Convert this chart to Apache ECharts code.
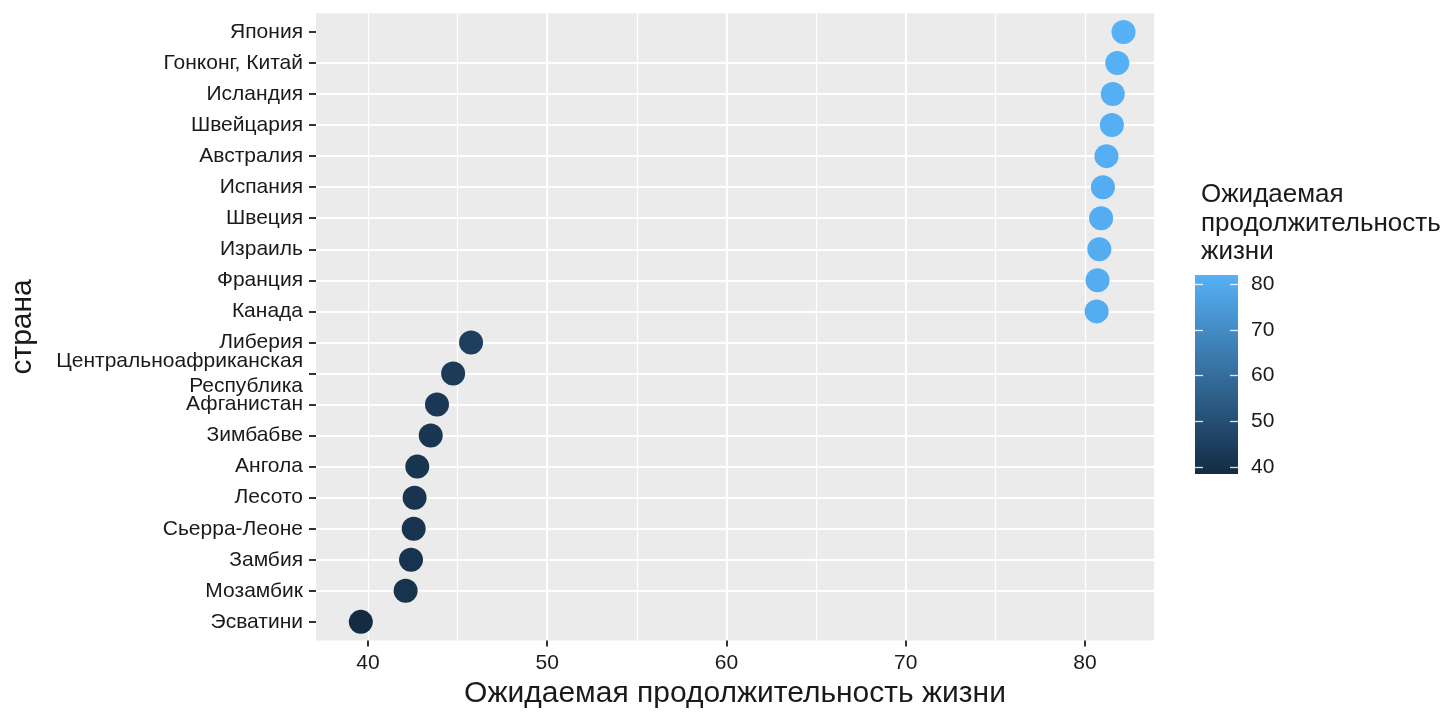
<!DOCTYPE html>
<html><head><meta charset="utf-8">
<script src="https://cdn.jsdelivr.net/npm/echarts@6/dist/echarts.min.js"></script>
<style>html,body{margin:0;padding:0;background:#fff}#c{width:1440px;height:720px}</style>
</head><body><div id="c"></div>
<script>
const countries = ['Эсватини','Мозамбик','Замбия','Сьерра-Леоне','Лесото','Ангола','Зимбабве','Афганистан','Центральноафриканская\nРеспублика','Либерия','Канада','Франция','Израиль','Швеция','Испания','Австралия','Швейцария','Исландия','Гонконг, Китай','Япония'];
const lifeExpectancy = [39.6,42.1,42.4,42.55,42.6,42.75,43.5,43.85,44.75,45.75,80.65,80.7,80.8,80.9,81.0,81.2,81.5,81.55,81.8,82.15];
const xTicks = [40,50,60,70,80];
const legendTicks = [40,50,60,70,80];
const xTitle = 'Ожидаемая продолжительность жизни';
const yTitle = 'страна';
const legendTitle = 'Ожидаемая\nпродолжительность\nжизни';

const FONT = "'Liberation Sans', Arial, sans-serif";
const TXT = '#1a1a1a';
const lo = Math.min(...lifeExpectancy), hi = Math.max(...lifeExpectancy);
const idx = countries.map((_, i) => i);

const chart = echarts.init(document.getElementById('c'));
chart.setOption({
  backgroundColor: '#fff',
  textStyle: { fontFamily: FONT },
  animation: false,
  title: {
    text: legendTitle, left: 1196, top: 176,
    textStyle: { fontFamily: FONT, fontSize: 26, lineHeight: 28.5, fontWeight: 'normal', color: TXT }
  },
  grid: [
    { left: 316, right: 286, top: 13.3, bottom: 79.5, show: true, backgroundColor: '#EBEBEB', borderWidth: 0 },
    { left: 1195, width: 43, top: 275, height: 199, show: true, borderWidth: 0,
      backgroundColor: { type: 'linear', x: 0, y: 0, x2: 0, y2: 1,
        colorStops: [{ offset: 0, color: '#56B1F7' }, { offset: 1, color: '#132B43' }] } }
  ],
  xAxis: [
    { type: 'value', gridIndex: 0, min: 37.1, max: 83.85, minInterval: 10, maxInterval: 10,
      name: xTitle, nameLocation: 'middle', nameGap: 37,
      nameTextStyle: { fontSize: 30, color: TXT, fontFamily: FONT },
      axisLine: { show: false, onZero: false },
      axisTick: { show: true, length: 6, customValues: xTicks, lineStyle: { color: '#333', width: 2 } },
      axisLabel: { customValues: xTicks, fontSize: 21, color: TXT, margin: 12, fontFamily: FONT,
        formatter: v => (v % 10 === 0 ? String(v) : '') },
      splitLine: { show: true, showMinLine: false, showMaxLine: false, lineStyle: { color: '#fff', width: 2 } } },
    { type: 'value', gridIndex: 0, min: 37.1, max: 83.85, minInterval: 5, maxInterval: 5,
      axisLine: { show: false, onZero: false }, axisTick: { show: false }, axisLabel: { show: false },
      splitLine: { show: true, showMinLine: false, showMaxLine: false, lineStyle: { color: '#fff', width: 1.2 } } },
    { type: 'value', gridIndex: 1, show: false, min: 0, max: 1 }
  ],
  yAxis: [
    { type: 'value', gridIndex: 0, min: -0.6, max: countries.length - 0.4, minInterval: 1, maxInterval: 1,
      name: yTitle, nameLocation: 'middle', nameGap: 278, nameRotate: 90,
      nameTextStyle: { fontSize: 30, color: TXT, fontFamily: FONT },
      axisLine: { show: false, onZero: false },
      axisTick: { show: true, length: 7, customValues: idx, lineStyle: { color: '#333', width: 2 } },
      axisLabel: { customValues: idx, fontSize: 21, color: TXT, margin: 13, fontFamily: FONT, lineHeight: 25,
        formatter: v => (Number.isInteger(v) && countries[v] !== undefined ? countries[v] : '') },
      splitLine: { show: true, showMinLine: false, showMaxLine: false, lineStyle: { color: '#fff', width: 2 } } },
    { type: 'value', gridIndex: 1, position: 'left', min: 38.5, max: 82.0, minInterval: 10, maxInterval: 10,
      axisLine: { show: false, onZero: false }, axisLabel: { show: false }, splitLine: { show: false },
      axisTick: { show: true, inside: true, length: 8, customValues: legendTicks, lineStyle: { color: 'rgba(255,255,255,0.85)', width: 1.3 } } },
    { type: 'value', gridIndex: 1, position: 'right', min: 38.5, max: 82.0, minInterval: 10, maxInterval: 10,
      axisLine: { show: false, onZero: false }, splitLine: { show: false },
      axisTick: { show: true, inside: true, length: 8, customValues: legendTicks, lineStyle: { color: 'rgba(255,255,255,0.85)', width: 1.3 } },
      axisLabel: { customValues: legendTicks, fontSize: 21, color: TXT, margin: 13, fontFamily: FONT,
        formatter: v => (v % 10 === 0 ? String(v) : '') } }
  ],
  visualMap: {
    type: 'continuous', show: false, seriesIndex: 0, dimension: 0, min: lo, max: hi,
    inRange: { color: ['#132B43', '#56B1F7'] }
  },
  series: [{
    type: 'scatter', xAxisIndex: 0, yAxisIndex: 0, symbolSize: 24,
    data: lifeExpectancy.map((v, i) => [v, i]),
    itemStyle: { opacity: 1 }
  }]
});
</script></body></html>
